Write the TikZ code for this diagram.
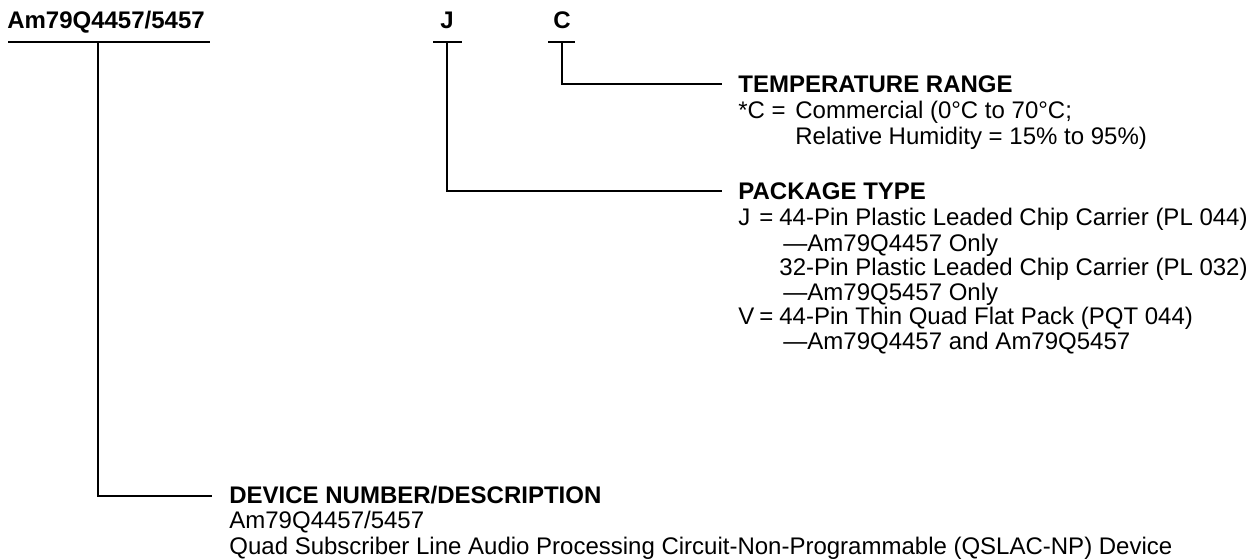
\documentclass[tikz,border=0pt]{standalone}
\usepackage{fontspec}
\setmainfont{Liberation Sans}
\usetikzlibrary{positioning}

\newcommand{\pkgcode}[1]{\makebox[21pt][l]{#1}\makebox[20pt][l]{=}}

\begin{document}
\begin{tikzpicture}[x=1pt,y=-1pt,line width=2.8pt,
        code/.style={font=\fontsize{24}{25}\selectfont\bfseries,anchor=base,inner sep=0pt},
        head/.style={font=\fontsize{24}{25}\selectfont\bfseries,anchor=base west,inner sep=0pt},
        desc/.style={font=\fontsize{24}{24.5}\selectfont,align=left,anchor=north west,inner sep=0pt}]
  \useasboundingbox (0,0) rectangle (1254,560);

  \node[code] (devnum) at (106,28) {Am79Q4457/5457};
  \node[code] (pkg) at (447,28) {J};
  \node[code] (temp) at (562,28) {C};

  \coordinate (devnum_l) at (8,42);
  \coordinate (devnum_r) at (210,42);
  \coordinate (devnum_t) at (98,42);
  \coordinate (devnum_e) at (212,496);
  \coordinate (pkg_l) at (433,42);
  \coordinate (pkg_r) at (462,42);
  \coordinate (pkg_t) at (447,42);
  \coordinate (pkg_e) at (722,191);
  \coordinate (temp_l) at (548,42);
  \coordinate (temp_r) at (575,42);
  \coordinate (temp_t) at (562,42);
  \coordinate (temp_e) at (722,84);

  \node[head] (temphead) at ([xshift=15pt,yshift=-8pt]temp_e) {TEMPERATURE RANGE};
  \node[head] (pkghead) at ([xshift=15pt,yshift=-8pt]pkg_e) {PACKAGE TYPE};
  \node[head] (devhead) at ([xshift=16pt,yshift=-7pt]devnum_e) {DEVICE NUMBER/DESCRIPTION};

  \node[desc] (tempdesc) at ([yshift=-7.5pt]temphead.base west)
    {\strut\makebox[57pt][l]{*C =}Commercial (0°C to 70°C;\\
     \hspace*{57pt}Relative Humidity = 15\% to 95\%)};
  \node[desc] (pkgdesc) at ([yshift=-7.5pt]pkghead.base west)
    {\strut\pkgcode{J}44-Pin Plastic Leaded Chip Carrier (PL 044)\\
     \hspace*{45pt}—Am79Q4457 Only\\
     \hspace*{41pt}32-Pin Plastic Leaded Chip Carrier (PL 032)\\
     \hspace*{45pt}—Am79Q5457 Only\\
     \pkgcode{V}44-Pin Thin Quad Flat Pack (PQT 044)\\
     \hspace*{45pt}—Am79Q4457 and Am79Q5457};
  \node[desc] (devdesc) at ([yshift=-7pt]devhead.base west)
    {\strut Am79Q4457/5457\\
     Quad Subscriber Line Audio Processing Circuit-Non-Programmable (QSLAC-NP) Device};

  \draw (devnum_l) -- (devnum_r);
  \draw (pkg_l) -- (pkg_r);
  \draw (temp_l) -- (temp_r);
  \draw (devnum_t) |- (devnum_e);
  \draw (pkg_t) |- (pkg_e);
  \draw (temp_t) |- (temp_e);

\end{tikzpicture}
\end{document}
